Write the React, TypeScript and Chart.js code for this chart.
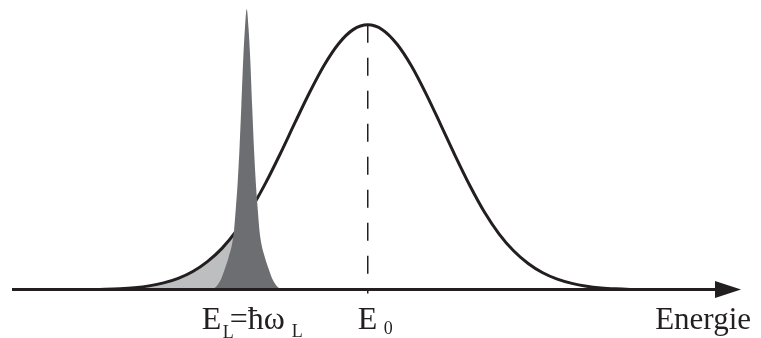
import React, { useEffect, useRef } from 'react';
import { Chart, registerables } from 'chart.js';

Chart.register(...registerables);

// Energy axis (arbitrary units)
const energyMin = 0;
const energyMax = 100;
const E0 = 48.8; // centre of the broad absorption band
const EL = 32.2; // laser energy

// Broad Gaussian band: offsets from E0 and normalised intensities
const gaussOffsets = [
  -48, -46, -44, -42, -40, -38, -36, -34, -32, -30, -28, -26, -24, -22, -20, -18, -16, -14, -12, -10, -8, -6, -4, -2,
  0, 2, 4, 6, 8, 10, 12, 14, 16, 18, 20, 22, 24, 26, 28, 30, 32, 34, 36, 38, 40, 42, 44, 46, 48,
];
const gaussValues = [
  0, 0, 0.0001, 0.0003, 0.0006, 0.0013, 0.0025, 0.0048, 0.0088, 0.0156, 0.0267, 0.0439, 0.0697, 0.107, 0.157, 0.224,
  0.306, 0.404, 0.514, 0.63, 0.744, 0.847, 0.929, 0.982, 1.0, 0.982, 0.928, 0.845, 0.74, 0.624, 0.506, 0.394, 0.294,
  0.212, 0.148, 0.1, 0.065, 0.041, 0.025, 0.0145, 0.008, 0.0043, 0.0022, 0.0011, 0.0005, 0.0002, 0.0001, 0, 0,
];
// part of the band below the laser line that is shaded
const shadedUntilOffset = -16;

// Narrow laser line: offsets from EL and intensities
const laserOffsets = [
  -5, -4.5, -4, -3.5, -3, -2.5, -2, -1.75, -1.5, -1.25, -1, -0.75, -0.5, -0.25, 0, 0.25, 0.5, 0.75, 1, 1.25, 1.5, 1.75,
  2, 2.5, 3, 3.5, 4, 4.5, 5,
];
const laserValues = [
  0, 0.006, 0.019, 0.042, 0.08, 0.122, 0.175, 0.223, 0.307, 0.403, 0.53, 0.689, 0.859, 0.986, 1.06, 0.986, 0.859,
  0.689, 0.53, 0.403, 0.307, 0.223, 0.175, 0.122, 0.08, 0.042, 0.019, 0.006, 0,
];

// Text
const axisTitle = 'Energie';
const laserLabelMain = 'E';
const laserLabelSub = 'L';
const laserLabelRest = '=ħω';
const laserLabelSub2 = 'L';
const bandLabelMain = 'E';
const bandLabelSub = '0';

const INK = '#231f20';

const decorPlugin = {
  id: 'decor',
  afterDatasetsDraw(chart: any) {
    const { ctx, chartArea, scales } = chart;
    const xs = scales.x;
    const ys = scales.y;
    const base = ys.getPixelForValue(0) - 0.5;
    const e0x = xs.getPixelForValue(E0);
    const elx = xs.getPixelForValue(EL);
    ctx.save();
    // dashed line at E0
    ctx.strokeStyle = INK;
    ctx.lineWidth = 1.5;
    ctx.setLineDash([18, 15]);
    ctx.beginPath();
    ctx.moveTo(e0x, ys.getPixelForValue(1.0));
    ctx.lineTo(e0x, base + 4);
    ctx.stroke();
    ctx.setLineDash([]);
    // axis with arrow
    const tip = chartArea.right;
    ctx.lineWidth = 3;
    ctx.beginPath();
    ctx.moveTo(chartArea.left, base);
    ctx.lineTo(tip - 20, base);
    ctx.stroke();
    ctx.fillStyle = INK;
    ctx.beginPath();
    ctx.moveTo(tip, base);
    ctx.lineTo(tip - 26, base - 8.5);
    ctx.lineTo(tip - 26, base + 8.5);
    ctx.closePath();
    ctx.fill();
    // labels
    ctx.textBaseline = 'alphabetic';
    ctx.textAlign = 'left';
    const mainFont = '32px "Liberation Serif", "Times New Roman", serif';
    const subFont = '18px "Liberation Serif", "Times New Roman", serif';
    const mainBase = 329;
    // E_L = ħω_L
    const x0 = elx - 45;
    ctx.font = mainFont;
    ctx.fillText(laserLabelMain, x0, mainBase);
    ctx.font = subFont;
    ctx.fillText(laserLabelSub, x0 + 21, mainBase + 9);
    ctx.font = mainFont;
    ctx.fillText(laserLabelRest, x0 + 28, mainBase);
    const restW = ctx.measureText(laserLabelRest).width;
    ctx.font = subFont;
    ctx.fillText(laserLabelSub2, x0 + 28 + restW + 7, mainBase + 8);
    // E_0
    ctx.font = mainFont;
    ctx.fillText(bandLabelMain, e0x - 10, mainBase);
    ctx.font = subFont;
    ctx.fillText(bandLabelSub, e0x + 16, mainBase + 5);
    // axis title
    ctx.font = '31px "Liberation Serif", "Times New Roman", serif';
    ctx.textAlign = 'right';
    ctx.fillText(axisTitle, 751, mainBase);
    ctx.restore();
  },
};

export default function App() {
  const ref = useRef<HTMLCanvasElement | null>(null);
  useEffect(() => {
    if (!ref.current) return;
    const gauss = gaussOffsets.map((d, i) => ({ x: E0 + d, y: gaussValues[i] }));
    const shaded = gaussOffsets
      .map((d, i) => ({ d, p: { x: E0 + d, y: gaussValues[i] } }))
      .filter((o) => o.d <= shadedUntilOffset)
      .map((o) => o.p);
    const laser = laserOffsets.map((d, i) => ({ x: EL + d, y: laserValues[i] }));
    const chart = new Chart(ref.current, {
      type: 'line',
      data: {
        datasets: [
          {
            data: laser,
            order: 0,
            borderWidth: 0,
            borderColor: 'rgba(0,0,0,0)',
            backgroundColor: '#6d6e71',
            fill: 'origin',
            pointRadius: 0,
            cubicInterpolationMode: 'monotone',
          },
          {
            data: gauss,
            order: 1,
            borderWidth: 3,
            borderColor: INK,
            fill: false,
            pointRadius: 0,
            cubicInterpolationMode: 'monotone',
          },
          {
            data: shaded,
            order: 2,
            borderWidth: 0,
            borderColor: 'rgba(0,0,0,0)',
            backgroundColor: '#bcbec0',
            fill: 'origin',
            pointRadius: 0,
            cubicInterpolationMode: 'monotone',
          },
        ],
      },
      options: {
        animation: false,
        responsive: false,
        layout: { padding: { left: 12, right: 20, top: 1, bottom: 48 } },
        scales: {
          x: { type: 'linear', min: energyMin, max: energyMax, display: false },
          y: { type: 'linear', min: 0, max: 1.09, display: false },
        },
        plugins: { legend: { display: false }, tooltip: { enabled: false } },
      },
      plugins: [decorPlugin],
    } as any);
    return () => chart.destroy();
  }, []);
  return (
    <div style={{ position: 'fixed', left: 0, top: 0, width: 761, height: 338, background: '#fff' }}>
      <canvas ref={ref} width={761} height={338} style={{ display: 'block' }} />
    </div>
  );
}
